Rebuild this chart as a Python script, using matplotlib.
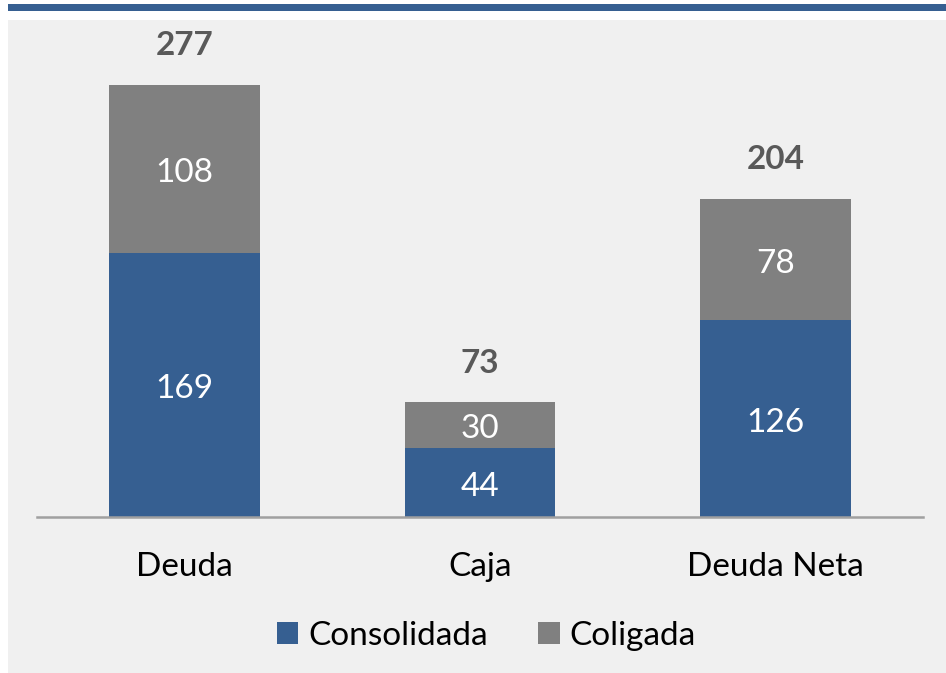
import matplotlib.pyplot as plt
from matplotlib.patches import Rectangle
import numpy as np

plt.rcParams['font.family'] = ['Lato', 'DejaVu Sans']

# data
categories = ["Deuda", "Caja", "Deuda Neta"]
consolidada = [169, 44, 126]
coligada = [108, 30, 78]
totals = [277, 73, 204]

blue = "#365F91"
grey = "#808080"

fig = plt.figure(figsize=(9.46, 6.73), dpi=100)
fig.patch.set_facecolor("white")

# grey panel and blue rule on top
fig.patches.append(Rectangle((8 / 946, 0), 1, 1 - 20 / 673, transform=fig.transFigure,
                             facecolor="#F0F0F0", edgecolor="none", zorder=-10))
fig.patches.append(Rectangle((8 / 946, 1 - 11 / 673), 1, 7 / 673, transform=fig.transFigure,
                             facecolor=blue, edgecolor="none", zorder=-10))

ax = fig.add_axes([37 / 946, 1 - 517 / 673, 886 / 946, 497 / 673])
ax.set_facecolor("none")
ax.set_zorder(5)

x = np.arange(len(categories))
w = 0.51
b1 = ax.bar(x, consolidada, w, color=blue, label="Consolidada", zorder=2)
b2 = ax.bar(x, coligada, w, bottom=consolidada, color=grey, label="Coligada", zorder=2)

# value labels inside the segments, totals above
for i in range(len(x)):
    ax.annotate(str(consolidada[i]), (x[i], consolidada[i] / 2), xytext=(0, -3),
                textcoords="offset points", ha="center", va="center",
                color="white", fontsize=24)
    ax.annotate(str(coligada[i]), (x[i], consolidada[i] + coligada[i] / 2), xytext=(0, -3),
                textcoords="offset points", ha="center", va="center",
                color="white", fontsize=24)
    ax.annotate(str(totals[i]), (x[i], totals[i]), xytext=(0, 18), textcoords="offset points",
                ha="center", va="bottom", color="#595959", fontsize=24, fontweight="bold")

ax.set_xlim(-0.5, 2.5)
ax.set_ylim(0, 318.6)
ax.set_xticks(x)
ax.set_xticklabels(categories, fontsize=24)
ax.tick_params(axis="x", length=0, pad=25)
ax.set_yticks([])
for s in ["top", "right", "left"]:
    ax.spines[s].set_visible(False)
ax.spines["bottom"].set_color("#A0A0A0")
ax.spines["bottom"].set_linewidth(1.8)

fig.legend(handles=[b1, b2], loc="center", bbox_to_anchor=(0.514, 1 - 636 / 673), ncol=2,
           frameon=False, fontsize=24, handlelength=0.65, handleheight=0.65,
           handletextpad=0.3, columnspacing=1.5)

fig.savefig("out.png", dpi=100, facecolor=fig.get_facecolor())
